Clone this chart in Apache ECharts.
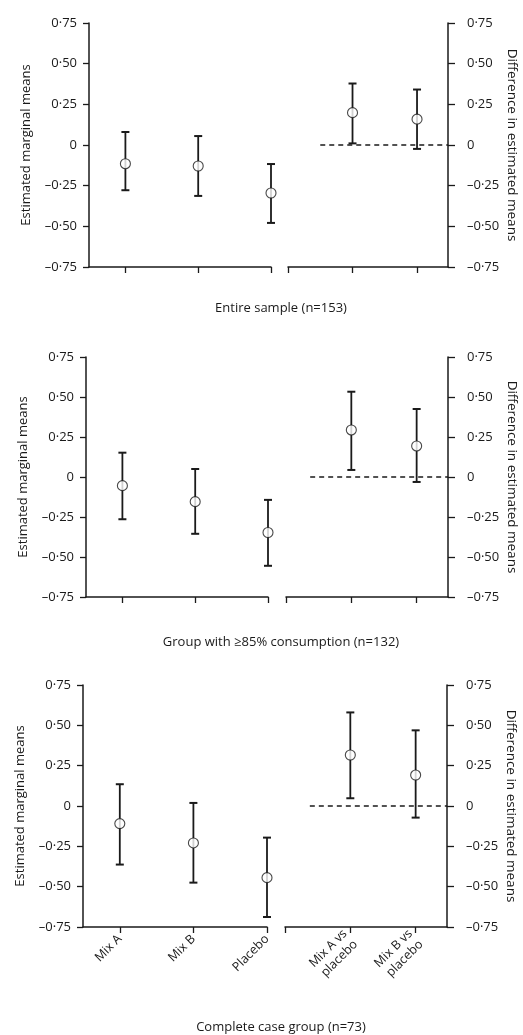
<!DOCTYPE html>
<html>
<head>
<meta charset="utf-8">
<script src="https://cdn.jsdelivr.net/npm/echarts@6/dist/echarts.min.js"></script>
<style>
html,body{margin:0;padding:0;background:#fff;}
#chart{width:523px;height:1035px;}
</style>
</head>
<body>
<div id="chart"></div>
<script>
// ---- data ----
const panelTitles = ['Entire sample (n=153)', 'Group with \u226585% consumption (n=132)', 'Complete case group (n=73)'];
const groupLabels = ['Mix A', 'Mix B', 'Placebo'];
const diffLabels = ['Mix A vs\nplacebo', 'Mix B vs\nplacebo'];
const groupX = [1, 2, 3];
const diffX = [4, 5];
const yMin = -0.75, yMax = 0.75, yStep = 0.25;
const leftAxisName = 'Estimated marginal means';
const rightAxisName = 'Difference in estimated means';

// Entire sample
const entireMean = [-0.115, -0.129, -0.295];
const entireLow = [-0.278, -0.313, -0.479];
const entireHigh = [0.08, 0.055, -0.117];
const entireDiffMean = [0.199, 0.159];
const entireDiffLow = [0.01, -0.024];
const entireDiffHigh = [0.378, 0.341];

// Group with >=85% consumption
const consMean = [-0.054, -0.154, -0.347];
const consLow = [-0.264, -0.355, -0.555];
const consHigh = [0.152, 0.05, -0.143];
const consDiffMean = [0.294, 0.194];
const consDiffLow = [0.044, -0.031];
const consDiffHigh = [0.533, 0.425];

// Complete case group
const completeMean = [-0.109, -0.229, -0.444];
const completeLow = [-0.363, -0.475, -0.688];
const completeHigh = [0.135, 0.019, -0.196];
const completeDiffMean = [0.316, 0.192];
const completeDiffLow = [0.048, -0.072];
const completeDiffHigh = [0.58, 0.469];

// zero reference line start (difference scale x units)
const zeroLineStart = [3.5, 3.37, 3.38];

// ---- layout (positions/styles) ----
const panels = [
  {mean: entireMean, low: entireLow, high: entireHigh, dMean: entireDiffMean, dLow: entireDiffLow, dHigh: entireDiffHigh},
  {mean: consMean, low: consLow, high: consHigh, dMean: consDiffMean, dLow: consDiffLow, dHigh: consDiffHigh},
  {mean: completeMean, low: completeLow, high: completeHigh, dMean: completeDiffMean, dLow: completeDiffLow, dHigh: completeDiffHigh}
];
const layout = [
  {top: 23, height: 244, lLeft: 89, lWidth: 182, rLeft: 288, rWidth: 160, titleY: 308},
  {top: 357, height: 240, lLeft: 86, lWidth: 182, rLeft: 286, rWidth: 162, titleY: 642},
  {top: 685, height: 242, lLeft: 83, lWidth: 184, rLeft: 285, rWidth: 162, titleY: 1027}
];
const leftXMin = 0.5, leftXMax = 3;
const rightXMin = 3, rightXMax = 5.48;
const INK = '#1a1a1a';
const FONT = 'Open Sans';

function fmtY(v) {
  if (Math.abs(v) < 1e-9) return '0';
  const s = Math.abs(v).toFixed(2).replace('.', '\u00b7');
  return (v < 0 ? '\u2013' : '') + s;
}

function renderErr(params, api) {
  const x = api.value(0), lo = api.value(1), hi = api.value(2);
  const p1 = api.coord([x, hi]);
  const p2 = api.coord([x, lo]);
  const w = 4;
  const st = {stroke: INK, lineWidth: 1.8};
  return {
    type: 'group',
    children: [
      {type: 'line', shape: {x1: p1[0], y1: p1[1], x2: p2[0], y2: p2[1]}, style: st},
      {type: 'line', shape: {x1: p1[0] - w, y1: p1[1], x2: p1[0] + w, y2: p1[1]}, style: {stroke: INK, lineWidth: 2}},
      {type: 'line', shape: {x1: p2[0] - w, y1: p2[1], x2: p2[0] + w, y2: p2[1]}, style: {stroke: INK, lineWidth: 2}}
    ]
  };
}

const grid = [], xAxis = [], yAxis = [], series = [], graphic = [];

panels.forEach((p, i) => {
  const L = layout[i];
  const isLast = i === panels.length - 1;
  const gl = grid.length;
  grid.push({left: L.lLeft, top: L.top, width: L.lWidth, height: L.height});
  grid.push({left: L.rLeft, top: L.top, width: L.rWidth, height: L.height});

  const xLine = {show: true, onZero: false, lineStyle: {color: INK, width: 1.5}};
  xAxis.push({
    gridIndex: gl, type: 'value', min: leftXMin, max: leftXMax,
    axisLine: xLine,
    axisTick: {show: true, customValues: groupX, length: 6, lineStyle: {color: INK, width: 1.3}},
    axisLabel: {
      show: isLast, customValues: groupX, rotate: 45, margin: 10,
      fontFamily: FONT, fontSize: 12.5, color: INK,
      formatter: v => groupLabels[groupX.indexOf(Math.round(v))] || ''
    },
    splitLine: {show: false}
  });
  xAxis.push({
    gridIndex: gl + 1, type: 'value', min: rightXMin, max: rightXMax,
    axisLine: xLine,
    axisTick: {show: true, customValues: [rightXMin].concat(diffX), length: 6, lineStyle: {color: INK, width: 1.3}},
    axisLabel: {
      show: isLast, customValues: diffX, rotate: 45, margin: 10,
      fontFamily: FONT, fontSize: 12.5, color: INK, lineHeight: 15,
      formatter: v => diffLabels[diffX.indexOf(Math.round(v))] || ''
    },
    splitLine: {show: false}
  });
  yAxis.push({
    gridIndex: gl, type: 'value', position: 'left', min: yMin, max: yMax, interval: yStep,
    axisLine: {show: true, onZero: false, lineStyle: {color: INK, width: 1.5}},
    axisTick: {show: true, length: 6, lineStyle: {color: INK, width: 1.3}},
    axisLabel: {formatter: fmtY, fontFamily: FONT, fontSize: 13, color: INK, margin: 12},
    splitLine: {show: false},
    name: leftAxisName, nameLocation: 'middle', nameGap: 56,
    nameTextStyle: {fontFamily: FONT, fontSize: 13, color: INK}
  });
  yAxis.push({
    gridIndex: gl + 1, type: 'value', position: 'right', min: yMin, max: yMax, interval: yStep,
    axisLine: {show: true, onZero: false, lineStyle: {color: INK, width: 1.5}},
    axisTick: {show: true, length: 7, lineStyle: {color: INK, width: 1.3}},
    axisLabel: {formatter: fmtY, fontFamily: FONT, fontSize: 13, color: INK, margin: 19},
    splitLine: {show: false},
    name: rightAxisName, nameLocation: 'middle', nameGap: 57, nameRotate: -90,
    nameTextStyle: {fontFamily: FONT, fontSize: 13.5, color: INK}
  });

  // zero reference line
  series.push({
    type: 'line', xAxisIndex: gl + 1, yAxisIndex: gl + 1,
    data: [[zeroLineStart[i], 0], [rightXMax, 0]],
    symbol: 'none', silent: true, z: 1,
    lineStyle: {color: INK, width: 1.5, type: [5, 4]}
  });
  // error bars
  series.push({
    type: 'custom', xAxisIndex: gl, yAxisIndex: gl, renderItem: renderErr, z: 2,
    encode: {x: 0, y: [1, 2]},
    data: groupX.map((x, k) => [x, p.low[k], p.high[k]])
  });
  series.push({
    type: 'custom', xAxisIndex: gl + 1, yAxisIndex: gl + 1, renderItem: renderErr, z: 2,
    encode: {x: 0, y: [1, 2]},
    data: diffX.map((x, k) => [x, p.dLow[k], p.dHigh[k]])
  });
  // means
  const markerStyle = {color: '#fff', borderColor: INK, borderWidth: 1.1};
  series.push({
    type: 'scatter', xAxisIndex: gl, yAxisIndex: gl, symbol: 'circle', symbolSize: 10, z: 3,
    itemStyle: markerStyle,
    data: groupX.map((x, k) => [x, p.mean[k]])
  });
  series.push({
    type: 'scatter', xAxisIndex: gl + 1, yAxisIndex: gl + 1, symbol: 'circle', symbolSize: 10, z: 3,
    itemStyle: markerStyle,
    data: diffX.map((x, k) => [x, p.dMean[k]])
  });

  graphic.push({
    type: 'text', x: 281, y: L.titleY,
    style: {text: panelTitles[i], textAlign: 'center', textVerticalAlign: 'middle',
            fontFamily: FONT, fontSize: 13, fill: INK}
  });
});

const chart = echarts.init(document.getElementById('chart'), null, {renderer: 'canvas'});
chart.setOption({
  animation: false,
  backgroundColor: '#fff',
  grid, xAxis, yAxis, series, graphic
});
</script>
</body>
</html>
